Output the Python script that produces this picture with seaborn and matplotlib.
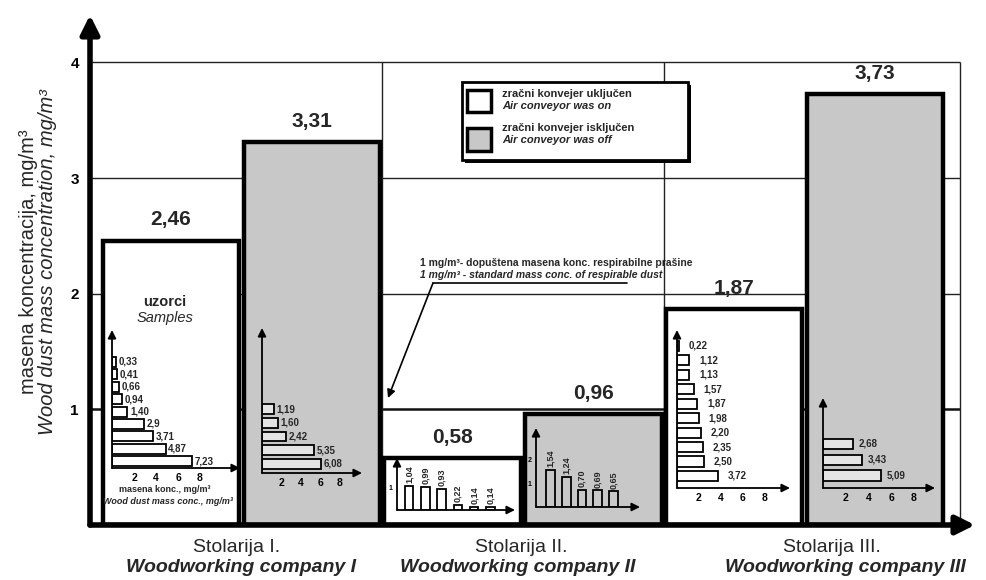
import matplotlib
matplotlib.use('Agg')
import matplotlib.pyplot as plt
from matplotlib.patches import Rectangle
from matplotlib.lines import Line2D
import pandas as pd
import seaborn as sns

W, H = 986, 580
GRAY = '#c8c8c8'
LIGHT = '#e4e4e4'

companies = ['Stolarija I.', 'Stolarija II.', 'Stolarija III.']
companies_en = ['Woodworking company I', 'Woodworking company II', 'Woodworking company III']
conveyor = ['on', 'off']
conc_on = [2.46, 0.58, 1.87]
conc_off = [3.31, 0.96, 3.73]

# individual samples, as printed on the chart (decimal comma)
samples_I_on = ['0,33', '0,41', '0,66', '0,94', '1,40', '2,9', '3,71', '4,87', '7,23']
samples_I_off = ['1,19', '1,60', '2,42', '5,35', '6,08']
samples_II_on = ['1,04', '0,99', '0,93', '0,22', '0,14', '0,14']
samples_II_off = ['1,54', '1,24', '0,70', '0,69', '0,65']
samples_III_on = ['0,22', '1,12', '1,13', '1,57', '1,87', '1,98', '2,20', '2,35', '2,50', '3,72']
samples_III_off = ['2,68', '3,43', '5,09']


def fmt(v):
    return f"{v:.2f}".replace('.', ',')


def to_float(labels):
    return [float(s.replace(',', '.')) for s in labels]


def fxy(x, y):
    # pixel position measured from top-left -> figure fraction
    return x / W, 1 - y / H


def draw_arrow(ax, start, end, lw, scale, coords='axes fraction'):
    ax.annotate('', xy=end, xytext=start, xycoords=coords, textcoords=coords,
                arrowprops=dict(arrowstyle='-|>', lw=lw, color='black',
                                mutation_scale=scale, shrinkA=0, shrinkB=0),
                annotation_clip=False)


def sample_inset(fig, labels, origin, tip, scale, first, step, fill,
                 vertical=False, width=0.7, pad=2, yticks=()):
    x0, y0 = origin
    x1, y1 = tip
    ax = fig.add_axes([x0 / W, 1 - y0 / H, (x1 - x0) / W, (y0 - y1) / H])
    ax.patch.set_visible(False)
    vals = to_float(labels)
    cats = [str(i) for i in range(len(vals))]
    if vertical:
        sns.barplot(x=cats, y=vals, color=fill, saturation=1, width=width,
                    edgecolor='black', linewidth=1.3, errorbar=None, ax=ax)
        ax.set_ylim(0, (y0 - y1) / scale)
        ax.set_xlim((x0 - first) / step, (x1 - first) / step)
        ax.bar_label(ax.containers[0], labels=labels, padding=pad, rotation=90,
                     fontsize=6.5, fontweight='bold')
        ax.set_xticks([])
        ax.set_yticks(list(yticks), labels=[str(t) for t in yticks], fontsize=5, fontweight='bold')
        ax.tick_params(axis='y', length=2, width=1, pad=1, colors='black')
    else:
        sns.barplot(x=vals, y=cats, orient='h', color=fill, saturation=1, width=width,
                    edgecolor='black', linewidth=1.3, errorbar=None, ax=ax)
        ax.set_xlim(0, (x1 - x0) / scale)
        ax.set_ylim((y0 - first) / step, (y1 - first) / step)
        ax.bar_label(ax.containers[0], labels=labels, padding=pad,
                     fontsize=7, fontweight='bold')
        ax.set_yticks([])
        ax.set_xticks([2, 4, 6, 8], labels=['2', '4', '6', '8'], fontsize=7.5, fontweight='bold')
        ax.tick_params(axis='x', length=3, width=2, direction='inout', pad=2, colors='black')
    ax.set_xlabel('')
    ax.set_ylabel('')
    for s in ax.spines.values():
        s.set_visible(False)
    draw_arrow(ax, (0, 0), (0, 1), 1.3, 12)
    draw_arrow(ax, (0, 0), (1, 0), 1.3, 12)
    return ax


def main():
    sns.set_theme(style='white')
    plt.rcParams['font.family'] = ['Liberation Sans', 'DejaVu Sans']

    fig = plt.figure(figsize=(W / 100, H / 100), dpi=100)
    ax = fig.add_axes([90 / W, 1 - 525 / H, 885 / W, 510 / H])

    df = pd.DataFrame({
        'company': companies * 2,
        'conveyor': [conveyor[0]] * 3 + [conveyor[1]] * 3,
        'conc': conc_on + conc_off,
    })
    sns.barplot(data=df, x='company', y='conc', hue='conveyor',
                palette={'on': 'white', 'off': GRAY}, saturation=1,
                width=1.0, gap=0.03, edgecolor='black', linewidth=3.2,
                errorbar=None, legend=False, zorder=3, ax=ax)
    for cont, vals in zip(ax.containers, [conc_on, conc_off]):
        ax.bar_label(cont, labels=[fmt(v) for v in vals], padding=8,
                     fontsize=15, fontweight='bold')

    x_left, x_grid = -0.538, 2.552
    ax.set_xlim(x_left, 2.606)
    ax.set_ylim(0, 4.41)
    ax.hlines([2, 3, 4], x_left, x_grid, color='#222222', lw=1, zorder=1)
    ax.hlines([1], x_left, x_grid, color='#111111', lw=1.8, zorder=1)
    ax.vlines([0.5, 1.5, x_grid], 0, 4, color='#222222', lw=1, zorder=1)
    for s in ax.spines.values():
        s.set_visible(False)
    ax.set_xticks([])
    ax.set_yticks([1, 2, 3, 4], labels=['1', '2', '3', '4'], fontsize=11, fontweight='bold')
    ax.tick_params(axis='y', length=5, width=1.2, pad=3, colors='black')
    ax.set_xlabel('')
    ax.set_ylabel('')
    draw_arrow(ax, (0, 0), (0, 1), 4, 28)
    draw_arrow(ax, (0, 0), (1, 0), 4, 28)

    # sample insets inside each bar
    sample_inset(fig, samples_I_on, (112, 468), (240, 330), 11, 362, 12.4, 'white', width=0.8)
    sample_inset(fig, samples_I_off, (262, 473), (362, 328), 9.75, 409, 13.75, LIGHT, width=0.7)
    sample_inset(fig, samples_II_on, (397, 510), (515, 458), 23, 409, 16.3, 'white',
                 vertical=True, width=0.52, yticks=(1,))
    sample_inset(fig, samples_II_off, (536, 507), (640, 428), 24, 550.5, 15.75, GRAY,
                 vertical=True, width=0.57, yticks=(1, 2))
    sample_inset(fig, samples_III_on, (677, 488), (790, 330), 10.9, 346, 14.44, 'white',
                 width=0.7, pad=7)
    sample_inset(fig, samples_III_off, (823, 488), (935, 398), 11.35, 444, 15.75, LIGHT,
                 width=0.65, pad=4)

    fig.text(*fxy(165, 490), 'masena konc., mg/m³', ha='center', va='center',
             fontsize=6.5, fontweight='bold')
    fig.text(*fxy(168, 501), 'Wood dust mass conc., mg/m³', ha='center', va='center',
             fontsize=6.5, fontweight='bold', style='italic')
    fig.text(*fxy(165, 302), 'uzorci', ha='center', va='center', fontsize=10.5, fontweight='bold')
    fig.text(*fxy(165, 318), 'Samples', ha='center', va='center', fontsize=10.5, style='italic')

    # legend box
    fig.add_artist(Rectangle(fxy(465, 163), 226 / W, 78 / H, transform=fig.transFigure,
                             facecolor='black', edgecolor='none'))
    fig.add_artist(Rectangle(fxy(462, 160), 226 / W, 78 / H, transform=fig.transFigure,
                             facecolor='white', edgecolor='black', lw=2))
    fig.add_artist(Rectangle(fxy(467, 112), 24 / W, 22 / H, transform=fig.transFigure,
                             facecolor='white', edgecolor='black', lw=2.5))
    fig.add_artist(Rectangle(fxy(467, 151), 24 / W, 23 / H, transform=fig.transFigure,
                             facecolor=GRAY, edgecolor='black', lw=2.5))
    leg_lines = [('zračni konvejer uključen', 'normal', 94), ('Air conveyor was on', 'italic', 106),
                 ('zračni konvejer isključen', 'normal', 128), ('Air conveyor was off', 'italic', 140)]
    for txt, st, y in leg_lines:
        fig.text(*fxy(502, y), txt, ha='left', va='center', fontsize=8,
                 fontweight='bold', style=st)

    # 1 mg/m3 standard annotation
    fig.text(*fxy(420, 263), '1 mg/m³- dopuštena masena konc. respirabilne prašine',
             ha='left', va='center', fontsize=7.5, fontweight='bold')
    fig.text(*fxy(420, 275), '1 mg/m³ - standard mass conc. of respirable dust',
             ha='left', va='center', fontsize=7.5, fontweight='bold', style='italic')
    (xa, ya), (xb, yb) = fxy(627, 283), fxy(433, 283)
    fig.add_artist(Line2D([xa, xb], [ya, yb], lw=1.2, color='black'))
    draw_arrow(ax, fxy(433, 283), fxy(388, 398), 1.2, 12, coords='figure fraction')

    # axis titles
    fig.text(*fxy(29, 262), 'masena koncentracija, mg/m³', rotation=90,
             ha='center', va='center', fontsize=14.5)
    fig.text(*fxy(48, 262), 'Wood dust mass concentration, mg/m³', rotation=90,
             ha='center', va='center', fontsize=14.5, style='italic')
    for name, en, x1, x2 in zip(companies, companies_en, [237, 521, 832], [241, 518, 845]):
        fig.text(*fxy(x1, 548), name, ha='center', va='center', fontsize=14)
        fig.text(*fxy(x2, 567), en, ha='center', va='center', fontsize=14,
                 fontweight='bold', style='italic')

    fig.savefig('out.png', dpi=100)
    plt.close(fig)


if __name__ == '__main__':
    main()
